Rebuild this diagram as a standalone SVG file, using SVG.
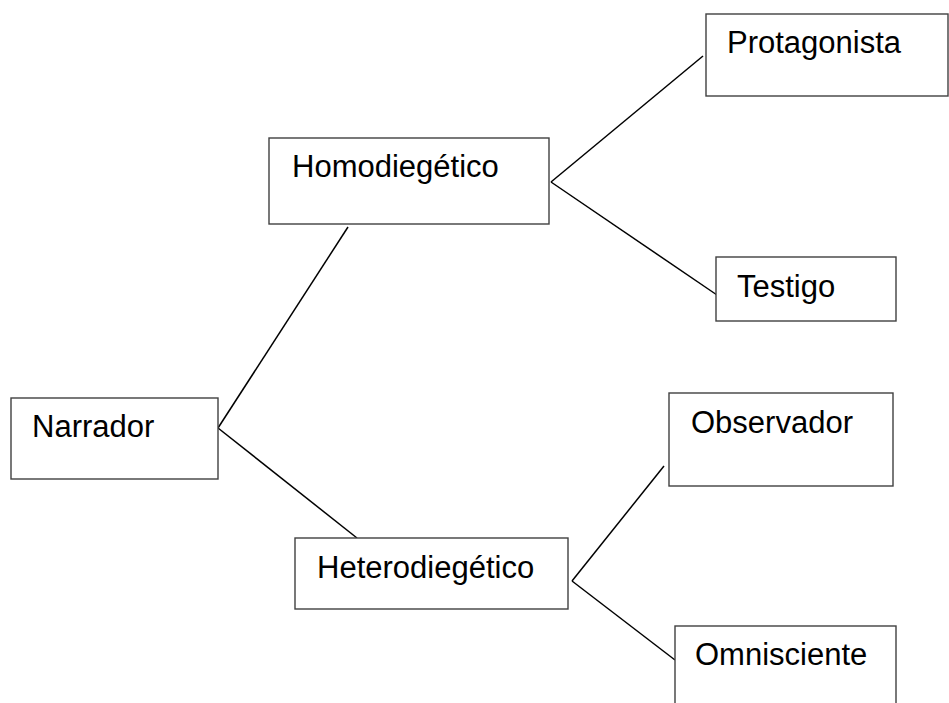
<svg xmlns="http://www.w3.org/2000/svg" width="949" height="703" viewBox="0 0 949 703">
<style>
.box{fill:#fff;stroke:#404040;stroke-width:1.4}
.lbl{font-family:"Liberation Sans",Arial,sans-serif;font-size:31px;fill:#000}
.con{stroke:#000;stroke-width:1.5;fill:none}
</style>
<rect width="949" height="703" fill="#fff"/>
<g id="connectors">
<line class="con" x1="218" y1="428" x2="348" y2="227"/>
<line class="con" x1="218" y1="428" x2="357" y2="538"/>
<line class="con" x1="551" y1="182" x2="703" y2="56"/>
<line class="con" x1="551" y1="182" x2="717" y2="295"/>
<line class="con" x1="572" y1="581" x2="664" y2="466"/>
<line class="con" x1="572" y1="581" x2="675" y2="660"/>
</g>
<g id="narrador"><rect class="box" x="11" y="398" width="207" height="81"/><text class="lbl" x="32" y="437">Narrador</text></g>
<g id="homodiegetico"><rect class="box" x="269" y="138" width="280" height="86"/><text class="lbl" x="292" y="177">Homodiegético</text></g>
<g id="heterodiegetico"><rect class="box" x="295" y="538" width="273" height="71"/><text class="lbl" x="317" y="578">Heterodiegético</text></g>
<g id="protagonista"><rect class="box" x="706" y="14" width="242" height="82"/><text class="lbl" x="727" y="53">Protagonista</text></g>
<g id="testigo"><rect class="box" x="716" y="257" width="180" height="64"/><text class="lbl" x="737" y="297">Testigo</text></g>
<g id="observador"><rect class="box" x="669" y="393" width="224" height="93"/><text class="lbl" x="691" y="433">Observador</text></g>
<g id="omnisciente"><rect class="box" x="675" y="626" width="221" height="90"/><text class="lbl" x="695" y="665">Omnisciente</text></g>
</svg>
